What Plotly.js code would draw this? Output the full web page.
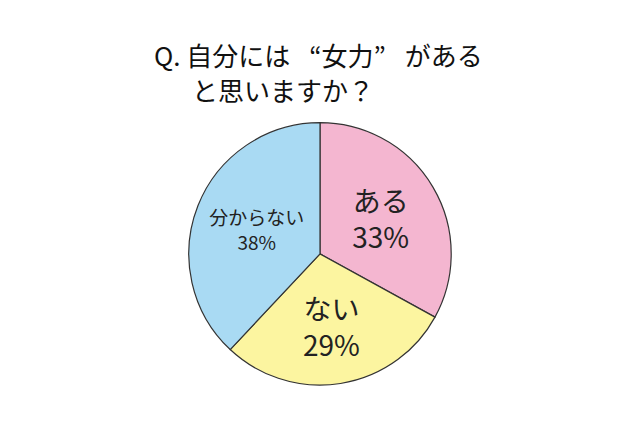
<!DOCTYPE html>
<html>
<head>
<meta charset="utf-8">
<script src="https://cdn.plot.ly/plotly-3.0.1.min.js"></script>
<style>
  body { margin: 0; background: #fff; }
  #chart { width: 640px; height: 426px; }
</style>
</head>
<body>
<div id="chart"></div>
<script>
var labels = ['ある', 'ない', '分からない'];
var percents = [33, 29, 38];
var colors = ['#f4b6d0', '#fcf5a0', '#a9daf3'];
var titleLines = ['Q. 自分には\u2002 “女力”\u2002 がある', 'と思いますか？'];

var font = '"Noto Sans CJK JP", "Noto Sans", sans-serif';

var trace = {
    type: 'pie',
    labels: labels,
    values: percents,
    sort: false,
    direction: 'clockwise',
    rotation: 0,
    marker: { colors: colors, line: { color: '#333', width: 1.2 } },
    text: percents.map(function (p) { return p + '%'; }),
    texttemplate: '%{label}<br>%{text}',
    textposition: 'inside',
    insidetextorientation: 'horizontal',
    insidetextfont: { family: font, size: [28, 28, 19], color: '#222' },
    hoverinfo: 'none',
    showlegend: false,
    domain: { x: [0, 1], y: [0.096, 0.712] }
};

var layout = {
    width: 640,
    height: 426,
    margin: { l: 0, r: 0, t: 0, b: 0 },
    paper_bgcolor: '#fff',
    annotations: [
        { text: titleLines[0], x: 152 / 640, y: 1 - 55 / 426, xref: 'paper', yref: 'paper',
          xanchor: 'left', yanchor: 'middle', showarrow: false,
          font: { family: font, size: 26, color: '#111' } },
        { text: titleLines[1], x: 190 / 640, y: 1 - 89 / 426, xref: 'paper', yref: 'paper',
          xanchor: 'left', yanchor: 'middle', showarrow: false,
          font: { family: font, size: 26, color: '#111' } }
    ]
};

Plotly.newPlot('chart', [trace], layout, { displayModeBar: false, staticPlot: true });
</script>
</body>
</html>
